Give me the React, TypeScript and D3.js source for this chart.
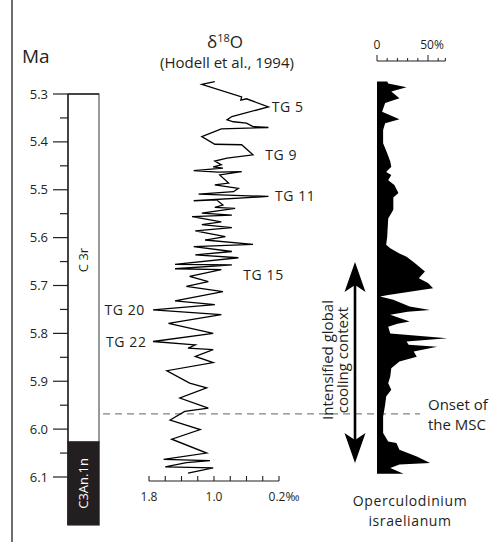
import React from "react";
import * as d3 from "d3";

// ---------- data ----------
const ageTicks = [5.3, 5.4, 5.5, 5.6, 5.7, 5.8, 5.9, 6.0, 6.1];
const ageMinorTicks = [5.35, 5.45, 5.55, 5.65, 5.75, 5.85, 5.95, 6.05];

const chronNames = ["C 3r", "C3An.1n"];
const chronTops = [5.3, 6.027];
const chronBottoms = [6.027, 6.2];

const d18oAge = [5.274,5.280,5.306,5.313,5.310,5.327,5.347,5.354,5.358,5.361,
  5.368,5.370,5.373,5.389,5.405,5.406,5.427,5.434,5.440,5.448,
  5.452,5.455,5.460,5.463,5.462,5.469,5.486,5.490,5.497,5.504,
  5.509,5.514,5.523,5.521,5.532,5.537,5.539,5.549,5.553,5.556,
  5.567,5.573,5.579,5.586,5.598,5.605,5.614,5.619,5.629,5.636,
  5.642,5.656,5.657,5.665,5.667,5.681,5.692,5.702,5.713,5.732,
  5.740,5.751,5.761,5.779,5.800,5.817,5.824,5.831,5.834,5.848,
  5.861,5.878,5.904,5.914,5.935,5.956,5.963,5.981,6.001,6.021,
  6.050,6.063,6.066,6.070,6.079,6.081,6.092];
const d18oVal = [0.99,1.15,0.66,0.67,0.60,0.33,0.78,0.84,0.76,0.60,
  0.52,0.33,0.91,1.15,0.99,0.66,0.52,0.84,0.99,0.91,
  1.01,0.89,1.25,0.95,0.66,0.93,0.82,0.99,0.70,0.76,
  1.19,0.33,1.25,0.97,0.89,0.99,0.74,1.15,0.78,1.27,
  0.91,1.15,0.78,1.23,0.86,1.11,0.52,1.25,0.78,1.23,
  0.70,1.48,0.78,1.48,0.91,1.30,1.07,1.34,0.89,1.48,
  0.99,1.75,0.91,1.56,1.01,1.75,1.23,1.32,1.01,1.23,
  1.01,1.58,1.30,1.09,1.42,1.07,1.36,1.54,1.17,1.52,
  1.09,1.62,1.05,1.34,1.60,1.01,1.32];
const d18oTicks = [1.8, 1.6, 1.4, 1.2, 1.0, 0.8, 0.6, 0.4, 0.2];
const d18oTickLabels = ["1.8", "1.0", "0.2‰"];
const d18oTickLabelValues = [1.8, 1.0, 0.2];

const tgLabels = ["TG 5", "TG 9", "TG 11", "TG 15", "TG 20", "TG 22"];
const tgAges = [5.327, 5.427, 5.514, 5.678, 5.751, 5.817];
const tgValues = [0.29, 0.37, 0.25, 0.64, 1.85, 1.83];
const tgAnchors = ["start", "start", "start", "start", "end", "end"];

const opAge = [5.274,5.278,5.286,5.295,5.309,5.319,5.337,5.353,5.361,5.375,
  5.403,5.424,5.441,5.452,5.463,5.469,5.480,5.490,5.507,5.516,
  5.542,5.560,5.598,5.615,5.622,5.633,5.640,5.653,5.671,5.685,
  5.695,5.706,5.709,5.720,5.723,5.730,5.744,5.751,5.755,5.761,
  5.775,5.780,5.786,5.800,5.810,5.817,5.824,5.828,5.838,5.849,
  5.859,5.873,5.890,5.904,5.918,5.932,5.949,5.974,6.008,6.026,
  6.029,6.043,6.057,6.071,6.074,6.081,6.093];
const opPct = [10,11,29,14,22,8,5,22,8,6,
  6,10,13,14,9,14,11,17,21,16,
  16,11,10,9,13,22,29,37,47,41,
  50,55,45,11,3,16,32,52,30,13,
  32,20,11,13,69,29,31,59,36,39,
  22,14,13,11,14,9,8,6,6,11,
  19,22,39,52,22,13,26];
const opTicks = [0, 10, 20, 30, 40, 50, 60];
const opTickLabels = ["0", "50%"];
const opTickLabelValues = [0, 50];

const mscOnset = 5.968;
const coolingArrowAges = [5.651, 6.071];

// ---------- component ----------
const W = 489;
const H = 542;
const FONT = "'Open Sans', sans-serif";
const INK = "#231f20";

export default function App() {
  const yAge = d3.scaleLinear().domain([5.3, 6.1]).range([94, 477]);
  const xD = d3.scaleLinear().domain([1.8, 0.2]).range([149, 279]);
  const xP = d3.scaleLinear().domain([0, 50]).range([377, 428]);

  const axisX = 68;
  const boxR = 99;

  const d18oLine = d3
    .line<number>()
    .x((_, i) => xD(d18oVal[i]))
    .y((a) => yAge(a))(d18oAge) as string;

  const opArea = d3
    .area<number>()
    .y((a) => yAge(a))
    .x0(xP(0))
    .x1((_, i) => xP(opPct[i]))(opAge) as string;

  const xAxisY = 481;
  const opAxisY = 61;
  const arrowX = 355;
  const aTop = yAge(coolingArrowAges[0]);
  const aBot = yAge(coolingArrowAges[1]);
  const ymsc = yAge(mscOnset);

  return (
    <svg
      width={W}
      height={H}
      style={{ position: "absolute", left: 0, top: 0, background: "#fff" }}
      fontFamily={FONT}
    >
      <rect x={0} y={0} width={W} height={H} fill="#fff" />
      {/* frame line */}
      <line x1={12} x2={12} y1={0} y2={H} stroke={INK} strokeWidth={1.3} />

      {/* Ma label */}
      <text x={22} y={63} fontSize={19} fill={INK}>Ma</text>

      {/* chron column */}
      {chronNames.map((n, i) => {
        const y0 = yAge(chronTops[i]);
        const y1 = yAge(chronBottoms[i]);
        const black = i === 1;
        const cy = i === 0 ? 260 : (y0 + y1) / 2;
        return (
          <g key={n}>
            <rect
              x={axisX}
              y={y0}
              width={boxR - axisX}
              height={y1 - y0}
              fill={black ? INK : "#fff"}
              stroke={black ? INK : "#6d6e71"}
              strokeWidth={1.4}
            />
            <text
              transform={`translate(${(axisX + boxR) / 2 + 4},${cy}) rotate(-90)`}
              textAnchor="middle"
              fontSize={13}
              fill={black ? "#fff" : INK}
            >
              {n}
            </text>
          </g>
        );
      })}
      <line x1={axisX} x2={boxR} y1={yAge(5.3)} y2={yAge(5.3)} stroke={INK} strokeWidth={1.4} />

      {/* age axis */}
      <line x1={axisX} x2={axisX} y1={yAge(5.3)} y2={yAge(6.2)} stroke={INK} strokeWidth={1.4} />
      {ageTicks.map((t) => (
        <g key={t}>
          <line x1={53} x2={axisX} y1={yAge(t)} y2={yAge(t)} stroke={INK} strokeWidth={1.2} />
          <text x={48} y={yAge(t) + 4.5} textAnchor="end" fontSize={13} fill={INK}>
            {t.toFixed(1)}
          </text>
        </g>
      ))}
      {ageMinorTicks.map((t) => (
        <line key={t} x1={60} x2={axisX} y1={yAge(t)} y2={yAge(t)} stroke={INK} strokeWidth={1.2} />
      ))}

      {/* dashed MSC onset line */}
      <line x1={103} x2={420} y1={ymsc} y2={ymsc} stroke="#808285" strokeWidth={1.2} strokeDasharray="7,5" />

      {/* δ18O title */}
      <text x={225} y={48} textAnchor="middle" fontSize={17} fill={INK}>
        δ<tspan fontSize={11} dy={-6}>18</tspan>
        <tspan dy={6}>O</tspan>
      </text>
      <text x={227} y={68} textAnchor="middle" fontSize={15} fill={INK}>
        (Hodell et al., 1994)
      </text>

      {/* δ18O curve */}
      <path d={d18oLine} fill="none" stroke="#000" strokeWidth={1.3} strokeLinejoin="miter" />

      {tgLabels.map((l, i) => (
        <text
          key={l}
          x={xD(tgValues[i])}
          y={yAge(tgAges[i]) + 5}
          textAnchor={tgAnchors[i] as any}
          fontSize={14}
          letterSpacing={0.6}
          fill={INK}
        >
          {l}
        </text>
      ))}

      {/* δ18O axis */}
      <line x1={xD(1.8)} x2={xD(0.2)} y1={xAxisY} y2={xAxisY} stroke={INK} strokeWidth={1.2} />
      {d18oTicks.map((t) => (
        <line key={t} x1={xD(t)} x2={xD(t)} y1={xAxisY} y2={xAxisY - 5} stroke={INK} strokeWidth={1.1} />
      ))}
      {d18oTickLabels.map((l, i) => (
        <text
          key={l}
          x={xD(d18oTickLabelValues[i]) + (i === 2 ? 5 : 0)}
          y={xAxisY + 20}
          textAnchor="middle"
          fontSize={12}
          fill={INK}
        >
          {l}
        </text>
      ))}

      {/* Operculodinium panel */}
      <line x1={xP(0)} x2={xP(67)} y1={opAxisY} y2={opAxisY} stroke={INK} strokeWidth={1.1} />
      {opTicks.map((t) => (
        <line
          key={t}
          x1={xP(t)}
          x2={xP(t)}
          y1={opAxisY}
          y2={opAxisY - (t === 0 || t === 50 ? 6 : 3)}
          stroke={INK}
          strokeWidth={1}
        />
      ))}
      <line x1={xP(67)} x2={xP(67)} y1={opAxisY} y2={opAxisY - 3} stroke={INK} strokeWidth={1} />
      {opTickLabels.map((l, i) => (
        <text
          key={l}
          x={xP(opTickLabelValues[i]) + (i === 1 ? 4 : 0)}
          y={49}
          textAnchor="middle"
          fontSize={12}
          fill={INK}
        >
          {l}
        </text>
      ))}
      <path d={opArea} fill="#000" stroke="none" />

      {/* cooling arrow */}
      <line x1={arrowX} x2={arrowX} y1={aTop + 20} y2={aBot - 20} stroke="#000" strokeWidth={2.6} />
      <path
        d={`M${arrowX},${aTop} L${arrowX + 10.5},${aTop + 30} L${arrowX},${aTop + 23} L${arrowX - 10.5},${aTop + 30} Z`}
        fill="#000"
      />
      <path
        d={`M${arrowX},${aBot} L${arrowX + 10.5},${aBot - 30} L${arrowX},${aBot - 23} L${arrowX - 10.5},${aBot - 30} Z`}
        fill="#000"
      />
      <text transform={`translate(333,360) rotate(-90)`} textAnchor="middle" fontSize={15} fill={INK}>
        Intensified global
      </text>
      <text transform={`translate(348,360) rotate(-90)`} textAnchor="middle" fontSize={15} fill={INK}>
        cooling context
      </text>

      {/* MSC onset label */}
      <text x={428} y={410} fontSize={15} fill={INK}>Onset of</text>
      <text x={428} y={430} fontSize={15} fill={INK}>the MSC</text>

      {/* panel label */}
      <text x={410} y={506} textAnchor="middle" fontSize={14} letterSpacing={0.6} fill={INK}>Operculodinium</text>
      <text x={410} y={525.5} textAnchor="middle" fontSize={14} letterSpacing={0.6} fill={INK}>israelianum</text>
    </svg>
  );
}
